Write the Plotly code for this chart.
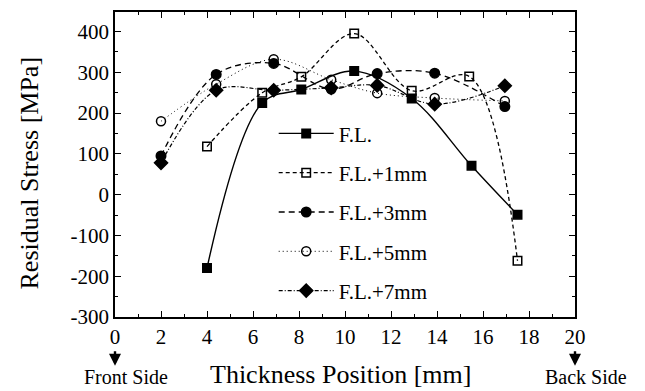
import plotly.graph_objects as go

# ---- data ----
series_names = ["F.L.", "F.L.+1mm", "F.L.+3mm", "F.L.+5mm", "F.L.+7mm"]

x_fl = [4.0, 6.4, 8.1, 10.4, 12.9, 15.5, 17.5]
y_fl = [-180, 225, 258, 303, 236, 71, -49]

x_fl1 = [4.0, 6.4, 8.1, 10.4, 12.9, 15.4, 17.5]
y_fl1 = [118, 250, 289, 395, 255, 290, -162]

x_fl3 = [2.0, 4.4, 6.9, 9.4, 11.4, 13.9, 16.95]
y_fl3 = [95, 295, 322, 259, 297, 298, 216]

x_fl5 = [2.0, 4.4, 6.9, 9.4, 11.4, 13.9, 16.95]
y_fl5 = [180, 271, 332, 282, 249, 237, 230]

x_fl7 = [2.0, 4.4, 6.9, 9.4, 11.4, 13.9, 16.95]
y_fl7 = [78, 256, 256, 262, 268, 222, 267]

x_tick_vals = [0, 2, 4, 6, 8, 10, 12, 14, 16, 18, 20]
x_tick_text = ["0", "2", "4", "6", "8", "10", "12", "14", "16", "18", "20"]
y_tick_vals = [-300, -200, -100, 0, 100, 200, 300, 400]
y_tick_text = ["-300", "-200", "-100", "0", "100", "200", "300", "400"]

x_title = "Thickness Position [mm]"
y_title = "Residual Stress [MPa]"
front_label = "Front Side"
back_label = "Back Side"

# ---- styles ----
FONT = "Liberation Serif, Times New Roman, serif"
styles = [
    dict(dash="solid", width=1.4, symbol="square", size=8.5),
    dict(dash="4px,3px", width=1.3, symbol="square-open", size=8.5),
    dict(dash="6px,4px", width=1.3, symbol="circle", size=9.5),
    dict(dash="1px,3px", width=1.0, symbol="circle-open", size=9),
    dict(dash="4px,2px,1px,2px", width=1.2, symbol="diamond", size=10),
]
xs = [x_fl, x_fl1, x_fl3, x_fl5, x_fl7]
ys = [y_fl, y_fl1, y_fl3, y_fl5, y_fl7]

fig = go.Figure()
for i, (name, x, y, st) in enumerate(zip(series_names, xs, ys, styles)):
    fig.add_trace(go.Scatter(
        x=x, y=y, name=name, mode="lines+markers",
        legendgroup="g%d" % i,
        line=dict(color="black", dash=st["dash"], width=st["width"], shape="spline", smoothing=1.0),
        marker=dict(symbol=st["symbol"], size=st["size"], color="black",
                    line=dict(color="black", width=1.5)),
    ))

axis_common = dict(
    showline=True, linecolor="black", linewidth=1.5, mirror="allticks",
    ticks="inside", ticklen=6, tickwidth=1.2, tickcolor="black",
    showgrid=False, zeroline=False,
    tickfont=dict(family=FONT, size=21, color="black"),
)

fig.update_xaxes(range=[0, 20], tickvals=x_tick_vals, ticktext=x_tick_text,
                 minor=dict(dtick=1, ticklen=3, ticks="inside", tickcolor="black", showgrid=False),
                 **axis_common)
fig.update_yaxes(range=[-300, 448], tickvals=y_tick_vals, ticktext=y_tick_text,
                 minor=dict(dtick=50, ticklen=3, ticks="inside", tickcolor="black", showgrid=False),
                 **axis_common)

fig.update_layout(
    width=645, height=391,
    margin=dict(l=115, r=70, t=10, b=74),
    paper_bgcolor="white", plot_bgcolor="white",
    font=dict(family=FONT, color="black"),
    showlegend=True,
    legend=dict(x=0.345, y=0.668, xanchor="left", yanchor="top",
                bgcolor="rgba(0,0,0,0)", borderwidth=0,
                font=dict(family=FONT, size=21, color="black"),
                tracegroupgap=9, itemwidth=55),
)

# axis titles
fig.add_annotation(text=x_title, xref="paper", yref="paper", x=0.49, y=-0.19,
                   xanchor="center", yanchor="middle", showarrow=False,
                   font=dict(family=FONT, size=26, color="black"))
fig.add_annotation(text=y_title, xref="paper", yref="paper", x=-0.186, y=0.472,
                   xanchor="center", yanchor="middle", showarrow=False, textangle=-90,
                   font=dict(family=FONT, size=26, color="black"))

# side arrows and labels
for xv, lab, dx in [(0, front_label, 11), (20, back_label, 11)]:
    fig.add_annotation(x=xv, y=-0.160, xref="x", yref="paper", text="", showarrow=True,
                       ax=0, ay=-16, arrowhead=2, arrowsize=1.0, arrowwidth=2.4, arrowcolor="black")
    fig.add_annotation(x=xv, y=-0.236, xref="x", yref="paper", text=lab, xshift=dx,
                       showarrow=False, xanchor="center", yanchor="bottom", borderpad=0,
                       font=dict(family=FONT, size=20, color="black"))

fig.write_html("out.html")
